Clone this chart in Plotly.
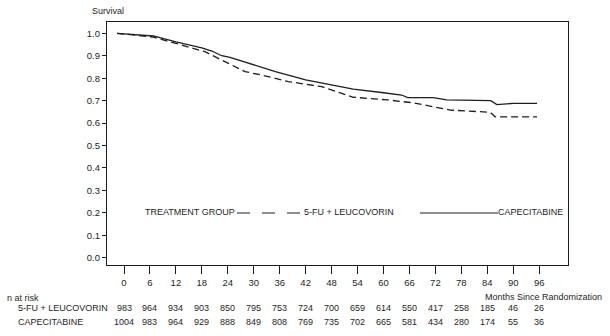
import plotly.graph_objects as go

# ---- data ----
cap_months = [-1.6, 6.8, 12, 18, 20.3, 22.6, 24.5, 30, 35, 42, 48, 53, 60, 64.2, 65.6, 71.5, 74.6, 84.8, 86.2, 90, 95.5]
cap_surv   = [1.0, 0.988, 0.962, 0.935, 0.921, 0.900, 0.893, 0.858, 0.829, 0.792, 0.770, 0.751, 0.735, 0.725, 0.713, 0.713, 0.703, 0.700, 0.682, 0.688, 0.688]

fu_months = [-1.6, 3, 6.8, 12, 18.7, 21, 28, 31.8, 38, 45.7, 48, 53, 61, 64, 67, 75.4, 84.7, 85.8, 95.5]
fu_surv   = [1.0, 0.990, 0.983, 0.955, 0.918, 0.896, 0.829, 0.814, 0.785, 0.762, 0.748, 0.715, 0.703, 0.695, 0.690, 0.658, 0.648, 0.628, 0.628]

tick_months = [0, 6, 12, 18, 24, 30, 36, 42, 48, 54, 60, 66, 72, 78, 84, 90, 96]
risk_fu  = [983, 964, 934, 903, 850, 795, 753, 724, 700, 659, 614, 550, 417, 258, 185, 46, 26]
risk_cap = [1004, 983, 964, 929, 888, 849, 808, 769, 735, 702, 665, 581, 434, 280, 174, 55, 36]
y_ticks = [0.0, 0.1, 0.2, 0.3, 0.4, 0.5, 0.6, 0.7, 0.8, 0.9, 1.0]

# ---- layout geometry (pixels) ----
W, H = 610, 336
L, R, T, B = 107, 568, 22, 265
FONT = "Liberation Sans, Arial, sans-serif"
FS = 9
INK = "#1e1e1e"

def px(x):
    return (x - L) / (R - L)

def py(y):
    return (B - y) / (B - T)

fig = go.Figure()
fig.add_trace(go.Scatter(x=fu_months, y=fu_surv, mode="lines",
                         line=dict(color=INK, width=1.3, dash="7px,4px"),
                         showlegend=False, hoverinfo="skip"))
fig.add_trace(go.Scatter(x=cap_months, y=cap_surv, mode="lines",
                         line=dict(color=INK, width=1.3),
                         showlegend=False, hoverinfo="skip"))

ann = []
def text(t, x, y, xa="left", size=FS, xref="paper"):
    ann.append(dict(text=t, x=x, y=y, xref=xref, yref="paper", xanchor=xa,
                    yanchor="middle", showarrow=False,
                    font=dict(family=FONT, size=size, color=INK)))

text("Survival", px(90), py(11))
text("n at risk", px(5), py(298))
text("5-FU + LEUCOVORIN", px(16), py(308))
text("CAPECITABINE", px(16), py(322))
text("Months Since Randomization", px(604), py(297), xa="right")
for m, a, b in zip(tick_months, risk_fu, risk_cap):
    text(str(a), m, py(308), xa="center", xref="x")
    text(str(b), m, py(322), xa="center", xref="x")

# in-plot legend
text("TREATMENT GROUP", px(143), py(212))
text("5-FU + LEUCOVORIN", px(302), py(212))
text("CAPECITABINE", px(496), py(212))

shapes = [
    dict(type="line", xref="paper", yref="paper", x0=px(237), x1=px(301),
         y0=py(213), y1=py(213), line=dict(color=INK, width=1.2, dash="13px,12px")),
    dict(type="line", xref="paper", yref="paper", x0=px(420), x1=px(498),
         y0=py(213), y1=py(213), line=dict(color=INK, width=1.2)),
]

fig.update_layout(
    width=W, height=H,
    margin=dict(l=L, r=W - R, t=T, b=H - B, pad=0),
    paper_bgcolor="white", plot_bgcolor="white",
    font=dict(family=FONT, size=FS + 0.5, color=INK),
    annotations=ann, shapes=shapes,
    xaxis=dict(range=[(L - 124) / 4.325, (R - 124) / 4.325],
               tickvals=tick_months, ticktext=[str(v) for v in tick_months],
               ticks="outside", ticklen=8, tickwidth=1, tickcolor=INK,
               showline=True, linecolor=INK, linewidth=1.2, mirror=True,
               showgrid=False, zeroline=False, fixedrange=True),
    yaxis=dict(range=[1 - (B - 33.3) / 224.4 * 1.0, 1 + (33.3 - T) / 224.4],
               tickvals=y_ticks, ticktext=[f"{v:.1f}" for v in y_ticks],
               ticks="outside", ticklen=4, tickwidth=1, tickcolor=INK,
               showline=True, linecolor=INK, linewidth=1.2, mirror=True,
               showgrid=False, zeroline=False, fixedrange=True),
)

fig.write_html("out.html")
